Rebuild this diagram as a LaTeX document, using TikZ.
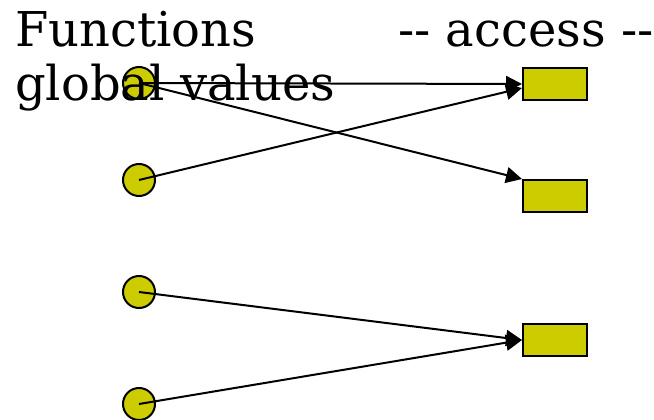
\documentclass[tikz,border=0pt]{standalone}
\usepackage{fontspec}
\setmainfont{DejaVu Serif}
\usetikzlibrary{arrows.meta}
\definecolor{valfill}{HTML}{CCCC00}

\begin{document}
\begin{tikzpicture}[x=1pt,y=-1pt,
  fn/.style={circle,draw,line width=2pt,fill=valfill,minimum size=32pt,inner sep=0pt},
  gv/.style={rectangle,draw,line width=2pt,fill=valfill,minimum width=64pt,minimum height=32pt,inner sep=0pt},
  acc/.style={-{Triangle[length=16pt,width=16pt]},line width=2pt},
  lbl/.style={anchor=base west,inner sep=0pt,font=\fontsize{48}{56}\selectfont}]
\useasboundingbox (0,0) rectangle (654,420);

% functions on the left, global values on the right
\foreach \i/\y in {1/83,2/180,3/292,4/404} {\node[fn] (f\i) at (139,\y) {};}
\node[gv] (g1) at (555,84) {};
\node[gv] (g2) at (555,196) {};
\node[gv] (g3) at (555,340) {};

\node[lbl] (tf) at (15,47) {Functions};
\node[lbl] (ta) at (398,47) {-{}- access -{}-};
\node[lbl] (tg) at (15,101) {global values};

\draw[acc] (f1.center) -- (g1.west);
\draw[acc] (f1.center) -- (g2.north west);
\draw[acc] (f2.center) -- ([yshift=-4pt]g1.west);
\draw[acc] (f3.center) -- (g3.west);
\draw[acc] (f4.center) -- (g3.west);
\end{tikzpicture}
\end{document}
